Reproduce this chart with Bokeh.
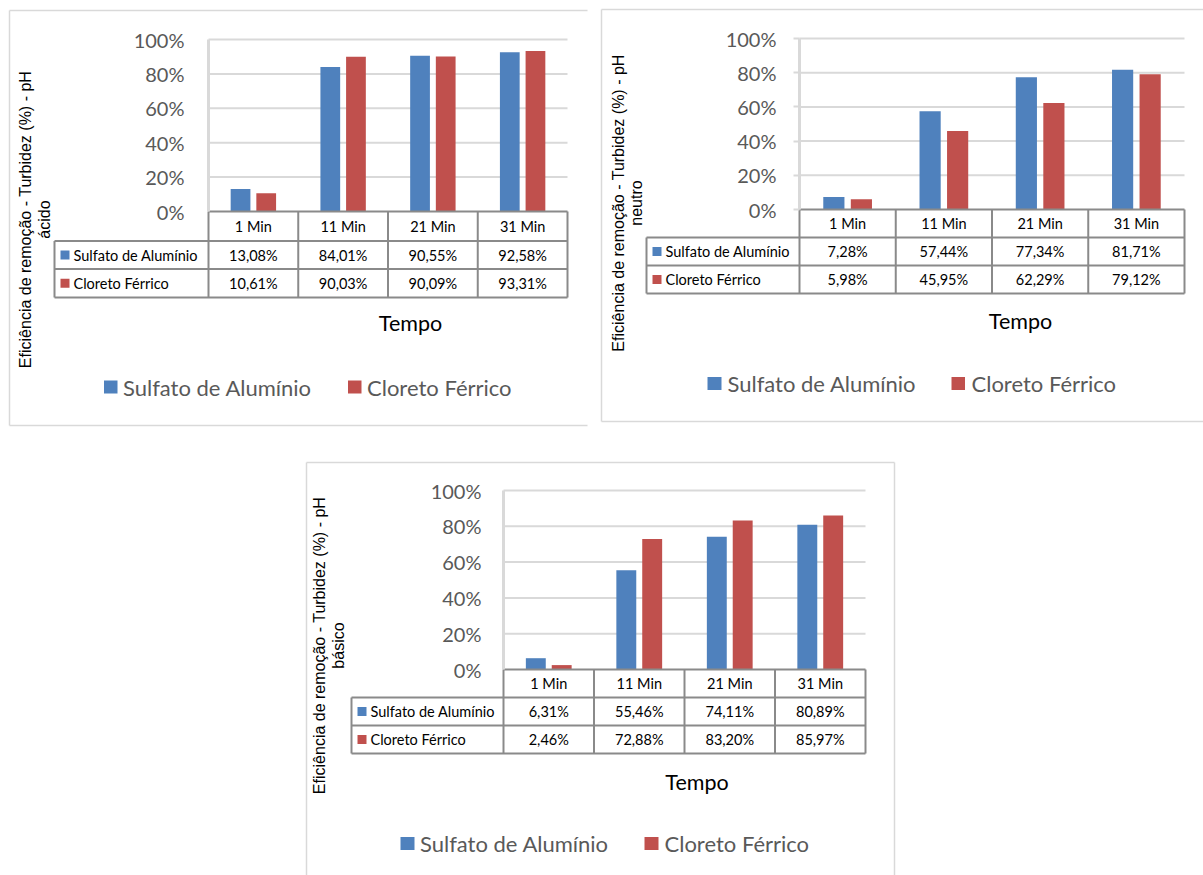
import numpy as np
from bokeh.plotting import figure
from bokeh.models import Range1d, LinearAxis, FixedTicker, NumeralTickFormatter
from bokeh.core.properties import value
from bokeh.embed import file_html
from bokeh.resources import INLINE

# ---------------- data ----------------
categories = ["1 Min", "11 Min", "21 Min", "31 Min"]
series_names = ["Sulfato de Alumínio", "Cloreto Férrico"]
acido_sulfato = [13.08, 84.01, 90.55, 92.58]
acido_cloreto = [10.61, 90.03, 90.09, 93.31]
neutro_sulfato = [7.28, 57.44, 77.34, 81.71]
neutro_cloreto = [5.98, 45.95, 62.29, 79.12]
basico_sulfato = [6.31, 55.46, 74.11, 80.89]
basico_cloreto = [2.46, 72.88, 83.20, 85.97]
y_ticks = [0, 0.2, 0.4, 0.6, 0.8, 1.0]
y_title = "Eficiência de remoção - Turbidez (%) - pH"
ph_labels = ["ácido", "neutro", "básico"]
x_title = "Tempo"

# ---------------- style ----------------
W, H = 1203, 875
BLUE = "#4f81bd"
RED = "#c0504d"
GRID = "#d9d9d9"
TABLE = "#8a8a8a"
BORDER = "#d9d9d9"
LABEL = "#595959"
FONT = "Lato"

# layout of each chart (pixels from top-left of page)
layouts = [
    dict(box=(9, 10, 587, 425), sides=("left", "top", "bottom"),
         X0=208, X1=567, Y0=211, Y1=39, rows=(211, 240.5, 268.5, 297), XL=54,
         standoff=24, tick_out=0, tempo=(410, 322), leg_y=386.5,
         leg=((103.5, 117, 122.5), (347.5, 361, 366.5)), yt=(25, 44, 219)),
    dict(box=(601, 9, 1203, 421), sides=("left", "top", "bottom"),
         X0=799, X1=1184, Y0=209, Y1=38, rows=(209, 237, 265, 293), XL=646,
         standoff=17, tick_out=6, tempo=(1020, 320), leg_y=383,
         leg=((707, 721, 727), (951, 964.5, 971)), yt=(617.5, 636, 202.5)),
    dict(box=(306, 462, 894, 875), sides=("left", "top", "right"),
         X0=503, X1=865, Y0=669, Y1=490, rows=(669, 697, 725, 753), XL=351,
         standoff=22, tick_out=0, tempo=(696.5, 781), leg_y=843,
         leg=((400, 414, 419.5), (644, 658, 664)), yt=(319, 338, 645)),
]
datasets = [
    (acido_sulfato, acido_cloreto),
    (neutro_sulfato, neutro_cloreto),
    (basico_sulfato, basico_cloreto),
]

p = figure(width=W, height=H, x_range=Range1d(0, W), y_range=Range1d(H, 0),
           x_axis_type=None, y_axis_type=None, toolbar_location=None,
           output_backend="svg", min_border=0, outline_line_color=None)
p.background_fill_color = "white"
p.border_fill_color = "white"


def fmt(v):
    return f"{v:.2f}".replace(".", ",") + "%"


n = len(categories)
idx = np.arange(n)
bar_w = 0.22
off = 0.143

for ci, (L, data, ph) in enumerate(zip(layouts, datasets, ph_labels)):
    xn, yn = f"x{ci}", f"y{ci}"
    X0, X1, Y0, Y1 = L["X0"], L["X1"], L["Y0"], L["Y1"]
    u = n / (X1 - X0)
    p.extra_x_ranges[xn] = Range1d(-X0 * u, (W - X0) * u)
    p.extra_y_ranges[yn] = Range1d((Y0 - H) / (Y0 - Y1), Y0 / (Y0 - Y1))

    # chart box border
    bx0, by0, bx1, by1 = L["box"]
    bxs, bys = [], []
    for s in L["sides"]:
        if s == "left":
            bxs.append([bx0, bx0]); bys.append([by0, by1])
        elif s == "top":
            bxs.append([bx0, bx1]); bys.append([by0, by0])
        elif s == "bottom":
            bxs.append([bx0, bx1]); bys.append([by1, by1])
        elif s == "right":
            bxs.append([bx1, bx1]); bys.append([by0, by1])
    p.multi_line(xs=bxs, ys=bys, line_color=BORDER, line_width=1.5)

    # gridlines
    gt = [t for t in y_ticks if t > 0]
    p.segment(x0=[0] * len(gt), x1=[n] * len(gt), y0=gt, y1=gt,
              line_color=GRID, line_width=2, x_range_name=xn, y_range_name=yn)

    # bars
    s1, s2 = data
    p.vbar(x=idx + 0.5 - off, top=np.array(s1) / 100, bottom=0, width=bar_w,
           fill_color=BLUE, line_color=None, x_range_name=xn, y_range_name=yn)
    p.vbar(x=idx + 0.5 + off, top=np.array(s2) / 100, bottom=0, width=bar_w,
           fill_color=RED, line_color=None, x_range_name=xn, y_range_name=yn)

    # y axis
    ax = LinearAxis(x_range_name=xn, y_range_name=yn, fixed_location=0,
                    bounds=(0, 1), ticker=FixedTicker(ticks=y_ticks),
                    formatter=NumeralTickFormatter(format="0%"))
    ax.axis_line_color = GRID
    ax.axis_line_width = 3
    ax.minor_tick_line_color = None
    if L["tick_out"]:
        ax.major_tick_line_color = GRID
        ax.major_tick_line_width = 2
        ax.major_tick_out = L["tick_out"]
        ax.major_tick_in = 0
    else:
        ax.major_tick_line_color = None
        ax.major_tick_out = 0
        ax.major_tick_in = 0
    ax.major_label_standoff = L["standoff"]
    ax.major_label_text_font = FONT
    ax.major_label_text_font_size = "20px"
    ax.major_label_text_color = LABEL
    p.add_layout(ax, "left")

    # data table
    r0, r1, r2, r3 = L["rows"]
    XL = L["XL"]
    cw = (X1 - X0) / n
    txs = [[X0, X1], [XL, X1], [XL, X1], [XL, X1], [XL, XL]]
    tys = [[r0, r0], [r1, r1], [r2, r2], [r3, r3], [r1, r3]]
    for k in range(n + 1):
        txs.append([X0 + k * cw, X0 + k * cw])
        tys.append([r0, r3])
    p.multi_line(xs=txs, ys=tys, line_color=TABLE, line_width=2)

    col_x = [X0 + (k + 0.5) * cw for k in range(n)]
    p.text(x=col_x, y=[(r0 + r1) / 2] * n, text=categories,
           text_align="center", text_baseline="middle",
           text_font=value(FONT), text_font_size="14.5px", text_color="black")
    for j, (ser, col) in enumerate(zip((s1, s2), (BLUE, RED))):
        yc = (L["rows"][j + 1] + L["rows"][j + 2]) / 2
        p.text(x=col_x, y=[yc] * n, text=[fmt(v) for v in ser],
               text_align="center", text_baseline="middle",
               text_font=value(FONT), text_font_size="14.5px", text_color="black")
        p.rect(x=[XL + 10.5], y=[yc], width=9, height=9, fill_color=col, line_color=None)
        p.text(x=[XL + 19], y=[yc], text=[series_names[j]],
               text_align="left", text_baseline="middle",
               text_font=value(FONT), text_font_size="14.5px", text_color="black")

    # x title
    tx, ty = L["tempo"]
    p.text(x=[tx], y=[ty], text=[x_title], text_align="center", text_baseline="middle",
           text_font=value(FONT), text_font_size="21.5px", text_color="black")

    # legend
    ly = L["leg_y"]
    for (sx0, sx1, tx0), col, name in zip(L["leg"], (BLUE, RED), series_names):
        p.rect(x=[(sx0 + sx1) / 2], y=[ly], width=sx1 - sx0, height=13,
               fill_color=col, line_color=None)
        p.text(x=[tx0], y=[ly], text=[name], text_align="left", text_baseline="middle",
               text_font=value(FONT), text_font_size="22px", text_color=LABEL)

    # y title (two lines, rotated)
    yx1, yx2, yc = L["yt"]
    p.text(x=[yx1], y=[yc], text=[y_title], angle=np.pi / 2,
           text_align="center", text_baseline="middle",
           text_font=value("Liberation Sans"), text_font_size="16px", text_color="black")
    p.text(x=[yx2], y=[yc], text=[ph], angle=np.pi / 2,
           text_align="center", text_baseline="middle",
           text_font=value("Liberation Sans"), text_font_size="16px", text_color="black")

open("out.html", "w").write(file_html(p, INLINE))
